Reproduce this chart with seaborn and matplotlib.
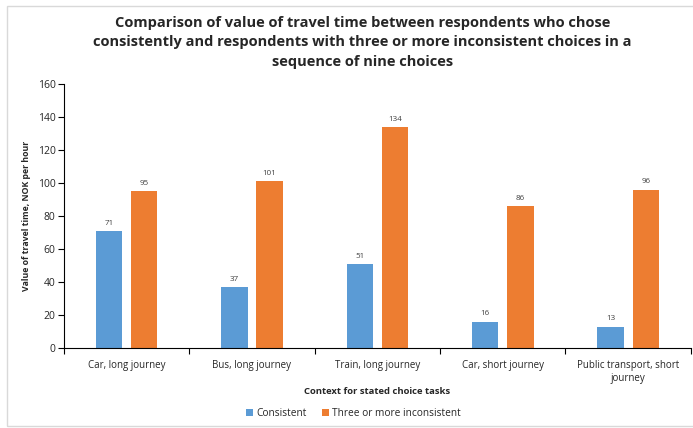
import seaborn as sns
import matplotlib.pyplot as plt
import pandas as pd
from matplotlib.patches import Rectangle

# values
contexts = ["Car, long journey", "Bus, long journey", "Train, long journey",
            "Car, short journey", "Public transport, short\njourney"]
consistent = [71, 37, 51, 16, 13]
inconsistent = [95, 101, 134, 86, 96]
groups = ["Consistent", "Three or more inconsistent"]

df = pd.DataFrame({
    "context": contexts * 2,
    "group": [groups[0]] * len(contexts) + [groups[1]] * len(contexts),
    "value": consistent + inconsistent,
})

sns.set_style("white")
plt.rcParams['font.family'] = ['Open Sans', 'DejaVu Sans']

fig = plt.figure(figsize=(6.93, 4.28), dpi=100)
ax = fig.add_axes([0.092, 0.187, 0.905, 0.617])

sns.barplot(data=df, x="context", y="value", hue="group", ax=ax,
            palette=["#5B9BD5", "#ED7D31"], width=0.56, gap=0.25,
            saturation=1, errorbar=None, legend=True, linewidth=0)

# value labels above bars
for cont in ax.containers:
    ax.bar_label(cont, fmt="%d", padding=3, fontsize=5.8, color="#404040")

ax.set_ylim(0, 160)
ax.set_yticks(range(0, 161, 20))
ax.set_xlim(-0.5, 4.5)
ax.tick_params(axis="y", labelsize=7.5, length=4, width=0.8, color="black",
               direction="out", left=True, pad=2)
ax.tick_params(axis="x", which="major", labelsize=7, length=0, pad=9)
ax.set_xticks([i - 0.5 for i in range(6)], minor=True)
ax.tick_params(axis="x", which="minor", length=4, width=0.8, color="black",
               direction="out", bottom=True)

for s in ["top", "right"]:
    ax.spines[s].set_visible(False)
ax.spines["left"].set_color("black")
ax.spines["bottom"].set_color("black")
ax.spines["left"].set_linewidth(0.8)
ax.spines["bottom"].set_linewidth(0.8)

ax.set_ylabel("Value of travel time, NOK per hour", fontsize=6.3,
              fontweight="bold", labelpad=5)
ax.set_xlabel("Context for stated choice tasks", fontsize=6.8,
              fontweight="bold", labelpad=2)

fig.suptitle("Comparison of value of travel time between respondents who chose\n"
             "consistently and respondents with three or more inconsistent choices in a\n"
             "sequence of nine choices",
             x=0.523, y=0.963, fontsize=10.5, fontweight="bold", linespacing=1.5)

ax.legend(loc="center", bbox_to_anchor=(0.51, 0.034), bbox_transform=fig.transFigure,
          ncol=2, frameon=False, fontsize=7.3, handlelength=0.7, handleheight=0.7,
          handletextpad=0.3, columnspacing=1.5)

# light border around the chart area
fig.patches.append(Rectangle((0.01, 0.005), 1.2, 0.98, transform=fig.transFigure,
                             fill=False, edgecolor="#D9D9D9", linewidth=1))

fig.savefig("out.png", dpi=100)
